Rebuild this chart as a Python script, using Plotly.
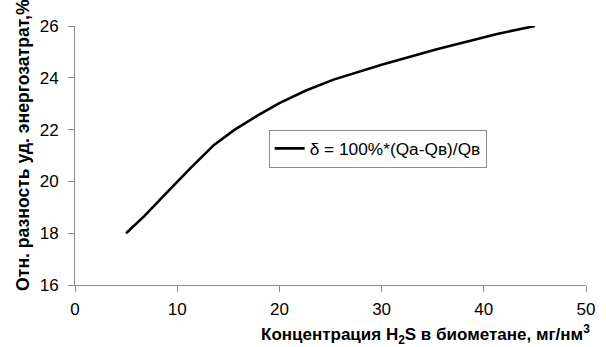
import plotly.graph_objects as go

conc = [5, 6.8, 8.6, 9.9, 11.3, 13.6, 15.6, 17.8, 20, 22.6, 25.3, 30, 35.4, 41.4, 45]
delta = [18.0, 18.67, 19.41, 19.96, 20.51, 21.41, 21.99, 22.53, 23.02, 23.51, 23.93, 24.5, 25.1, 25.7, 26.0]
x_ticks = [0, 10, 20, 30, 40, 50]
y_ticks = [16, 18, 20, 22, 24, 26]

FONT = "Liberation Sans, Arial, sans-serif"

fig = go.Figure()
fig.add_trace(go.Scatter(
    x=conc, y=delta, mode="lines",
    line=dict(color="black", width=2.6),
    name="δ = 100%*(Qa-Qв)/Qв",
    showlegend=True,
))

axis_common = dict(
    showgrid=False, zeroline=False, showline=True,
    linecolor="#8c8c8c", linewidth=1,
    ticks="outside", ticklen=6, tickcolor="#8c8c8c", tickwidth=1,
    tickfont=dict(family=FONT, size=17, color="black"),
)

fig.update_layout(
    width=606, height=347,
    margin=dict(l=75, r=11, t=26, b=62),
    paper_bgcolor="white", plot_bgcolor="white",
    font=dict(family=FONT, color="black"),
    xaxis=dict(range=[0, 50], tickvals=x_ticks, ticklabelstandoff=3, **axis_common),
    yaxis=dict(range=[16, 26], tickvals=y_ticks, ticklabelstandoff=6, **axis_common),
    legend=dict(
        x=0.379, y=0.6, xanchor="left", yanchor="top",
        bgcolor="white", bordercolor="#8c8c8c", borderwidth=1,
        font=dict(family=FONT, size=17.3, color="black"),
        itemwidth=30,
    ),
    annotations=[
        dict(
            text="<b>Концентрация H<sub>2</sub>S в биометане, мг/нм<sup>3</sup></b>",
            xref="paper", yref="paper", x=1.0115, y=-0.193,
            xanchor="right", yanchor="middle", showarrow=False,
            font=dict(family=FONT, size=17, color="black"),
        ),
        dict(
            text="<b>Отн. разность уд. энергозатрат,%</b>",
            xref="paper", yref="paper", x=-0.102, y=-0.031,
            xanchor="center", yanchor="bottom", textangle=-90, showarrow=False,
            font=dict(family=FONT, size=17.6, color="black"),
        ),
    ],
)

fig.write_html("out.html")
